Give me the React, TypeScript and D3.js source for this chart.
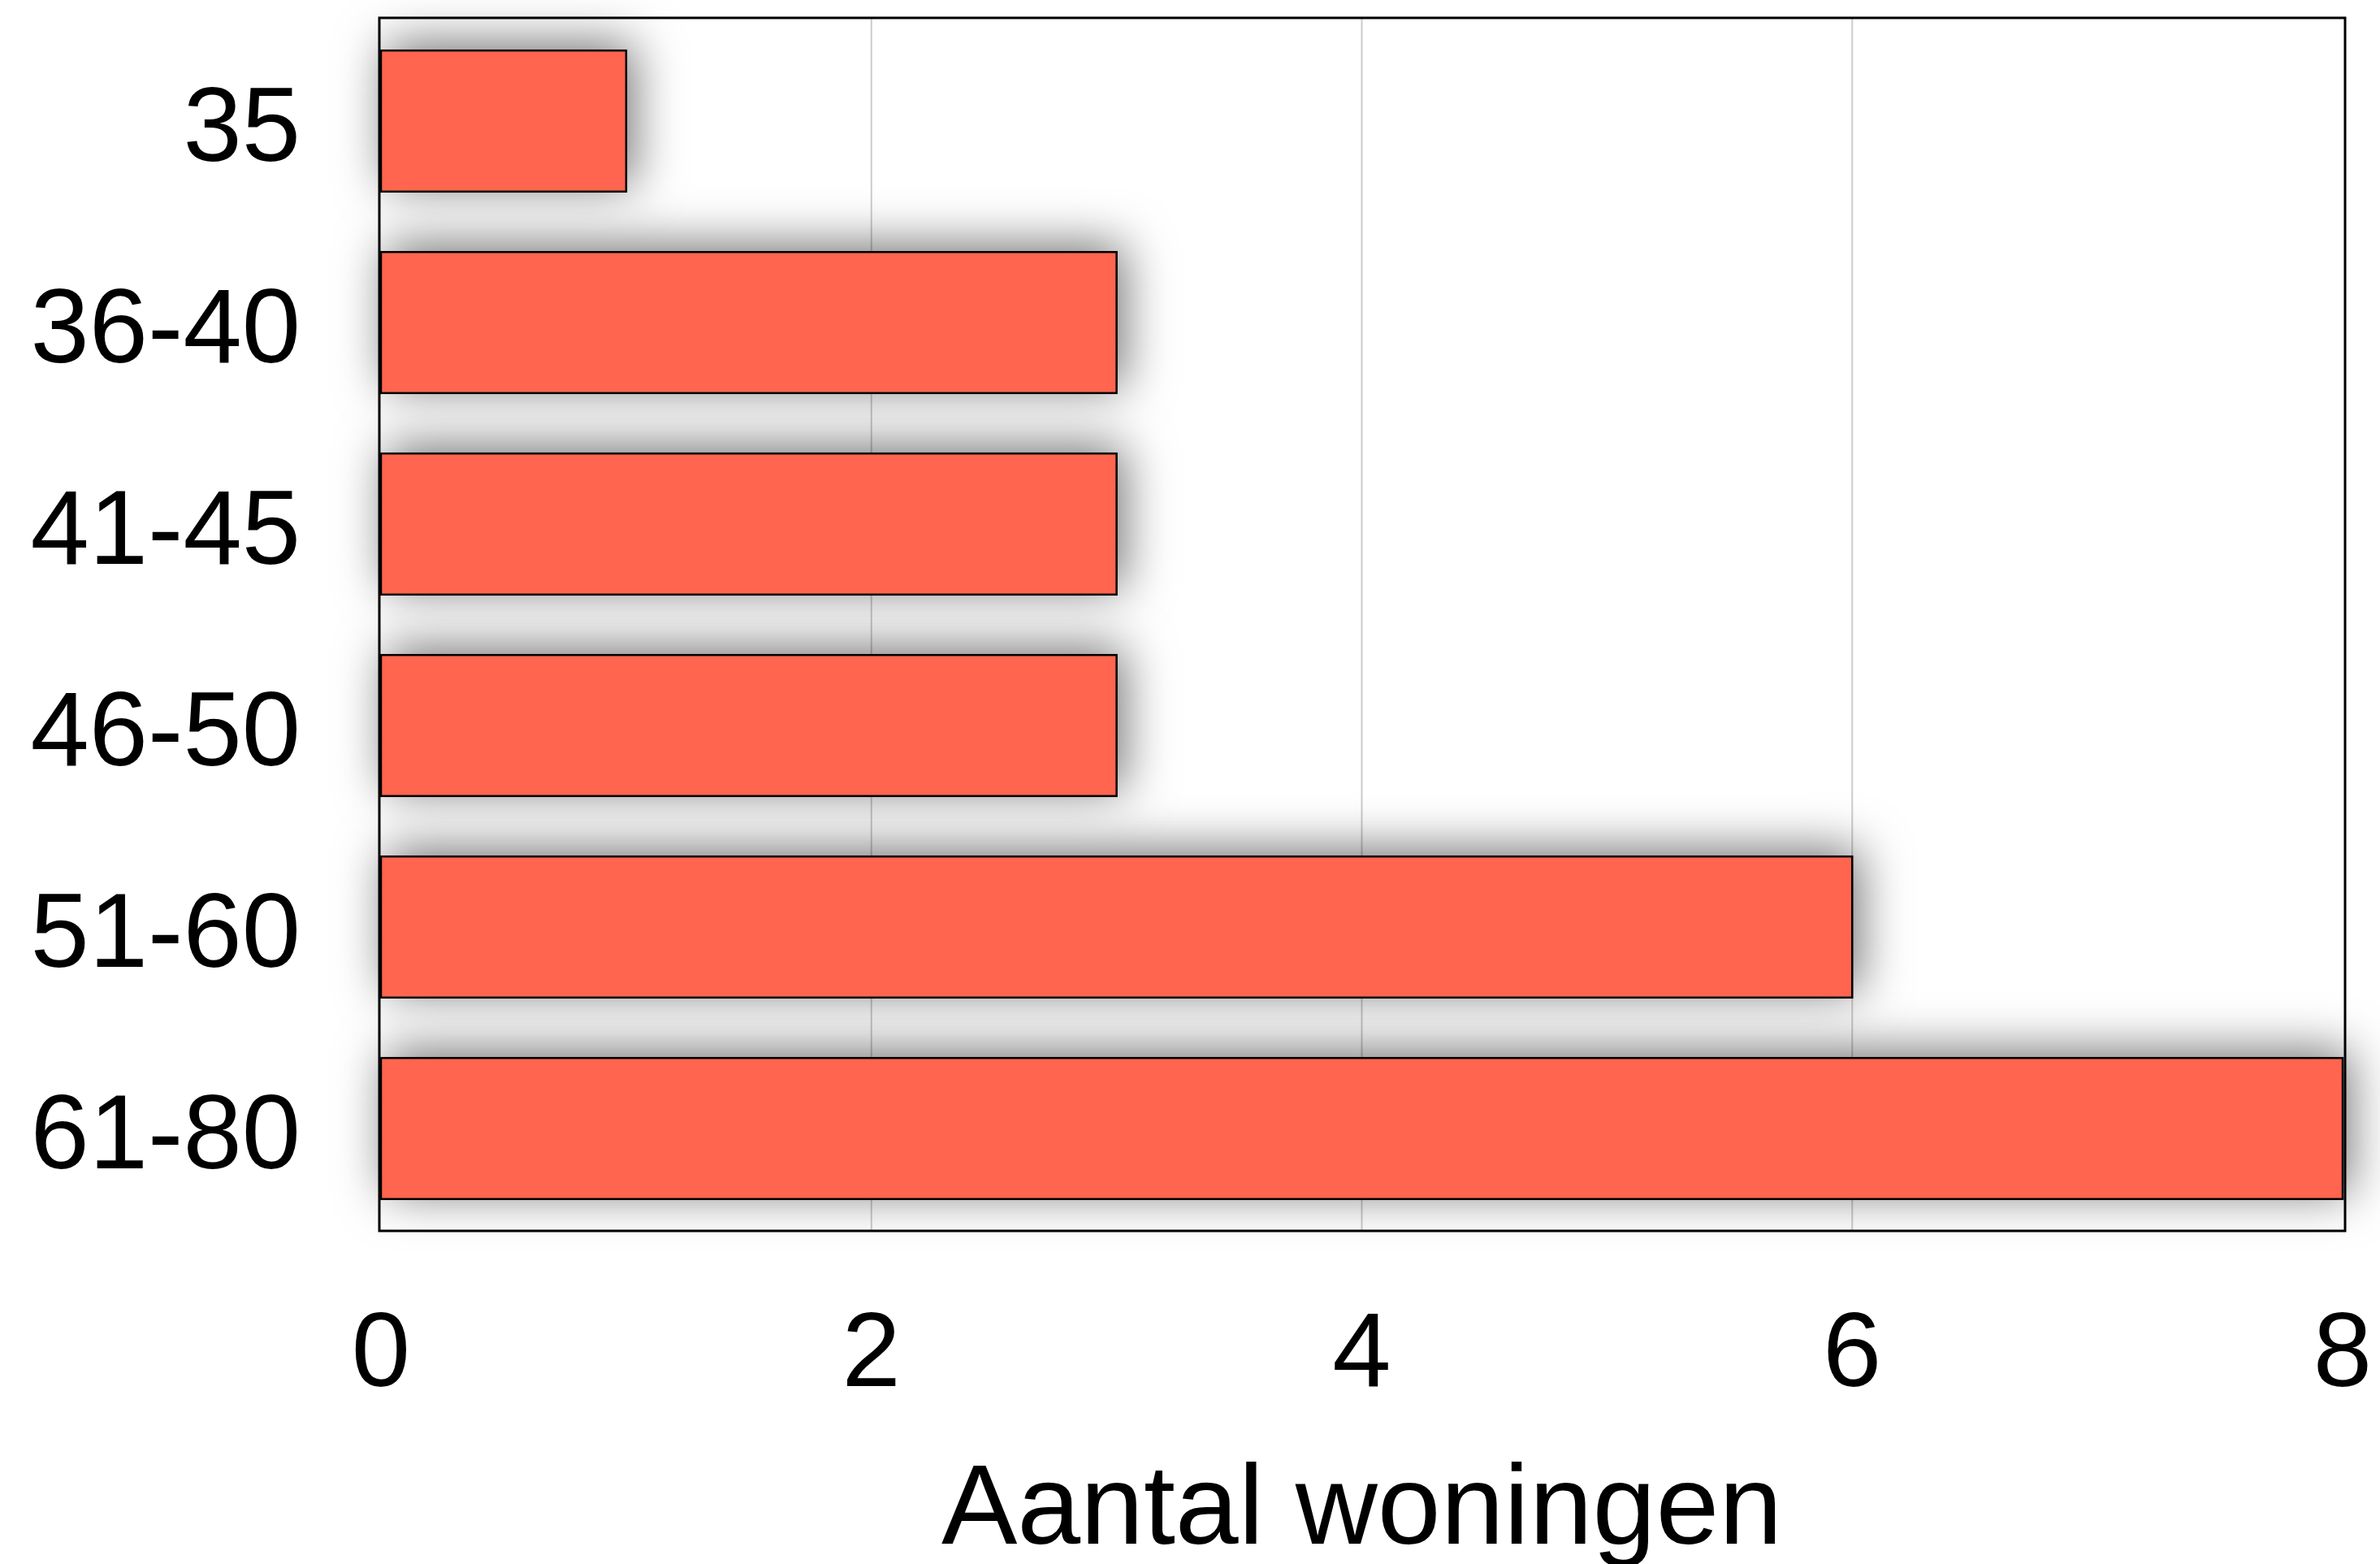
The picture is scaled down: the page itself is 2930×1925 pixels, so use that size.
import { useEffect, useRef } from "react";
import * as d3 from "d3";

// surface classes (m2) and number of dwellings
const categories = ["35", "36-40", "41-45", "46-50", "51-60", "61-80"];
const counts = [1, 3, 3, 3, 6, 8];
const xTicks = [0, 2, 4, 6, 8];
const xTitle = "Aantal woningen";

export default function App() {
  const svgRef = useRef<SVGSVGElement>(null);

  useEffect(() => {
    document.body.style.margin = "0";
    const width = 2930;
    const height = 1925;
    const svg = d3
      .select(svgRef.current)
      .attr("width", width)
      .attr("height", height);
    svg.selectAll("*").remove();

    const font = "'Liberation Sans', Arial, Helvetica, sans-serif";

    // scales
    const xScale = d3.scaleLinear().domain([0, 8]).range([469, 2884]);
    const yScale = d3
      .scaleBand<string>()
      .domain(categories)
      .range([25, 1513])
      .paddingInner(0.3)
      .paddingOuter(0.15);

    // soft drop shadow for the bars
    const defs = svg.append("defs");
    const filter = defs
      .append("filter")
      .attr("id", "barShadow")
      .attr("x", "-50%")
      .attr("y", "-100%")
      .attr("width", "200%")
      .attr("height", "300%");
    filter
      .append("feDropShadow")
      .attr("dx", 8)
      .attr("dy", -8)
      .attr("stdDeviation", 30)
      .attr("flood-color", "#000")
      .attr("flood-opacity", 0.55);

    // plot background
    svg
      .append("rect")
      .attr("x", 467)
      .attr("y", 22)
      .attr("width", 2887 - 467)
      .attr("height", 1515 - 22)
      .attr("fill", "#fff");

    // grid lines
    svg
      .append("g")
      .selectAll("line")
      .data(xTicks.filter((t) => t > 0 && t < 8))
      .join("line")
      .attr("x1", (d) => xScale(d))
      .attr("x2", (d) => xScale(d))
      .attr("y1", 22)
      .attr("y2", 1515)
      .attr("stroke", "#cccccc")
      .attr("stroke-width", 2);

    // bars
    svg
      .append("g")
      .selectAll("rect")
      .data(counts)
      .join("rect")
      .attr("x", xScale(0))
      .attr("y", (_, i) => yScale(categories[i]) as number)
      .attr("width", (d) => xScale(d) - xScale(0))
      .attr("height", yScale.bandwidth())
      .attr("fill", "#ff6550")
      .attr("stroke", "#000")
      .attr("stroke-width", 2.5)
      .attr("filter", "url(#barShadow)");

    // frame
    svg
      .append("rect")
      .attr("x", 467)
      .attr("y", 22)
      .attr("width", 2887 - 467)
      .attr("height", 1515 - 22)
      .attr("fill", "none")
      .attr("stroke", "#000")
      .attr("stroke-width", 3);

    // y labels
    svg
      .append("g")
      .selectAll("text")
      .data(categories)
      .join("text")
      .attr("x", 370)
      .attr("y", (d) => (yScale(d) as number) + yScale.bandwidth() / 2 + 49)
      .attr("text-anchor", "end")
      .attr("font-family", font)
      .attr("font-size", 130)
      .attr("fill", "#000")
      .text((d) => d);

    // x tick labels
    svg
      .append("g")
      .selectAll("text")
      .data(xTicks)
      .join("text")
      .attr("x", (d) => xScale(d))
      .attr("y", 1706)
      .attr("text-anchor", "middle")
      .attr("font-family", font)
      .attr("font-size", 130)
      .attr("fill", "#000")
      .text((d) => String(d));

    // x axis title
    svg
      .append("text")
      .attr("x", (xScale(0) + xScale(8)) / 2)
      .attr("y", 1900)
      .attr("text-anchor", "middle")
      .attr("font-family", font)
      .attr("font-size", 140)
      .attr("fill", "#000")
      .text(xTitle);
  }, []);

  return <svg ref={svgRef} style={{ display: "block" }}></svg>;
}
